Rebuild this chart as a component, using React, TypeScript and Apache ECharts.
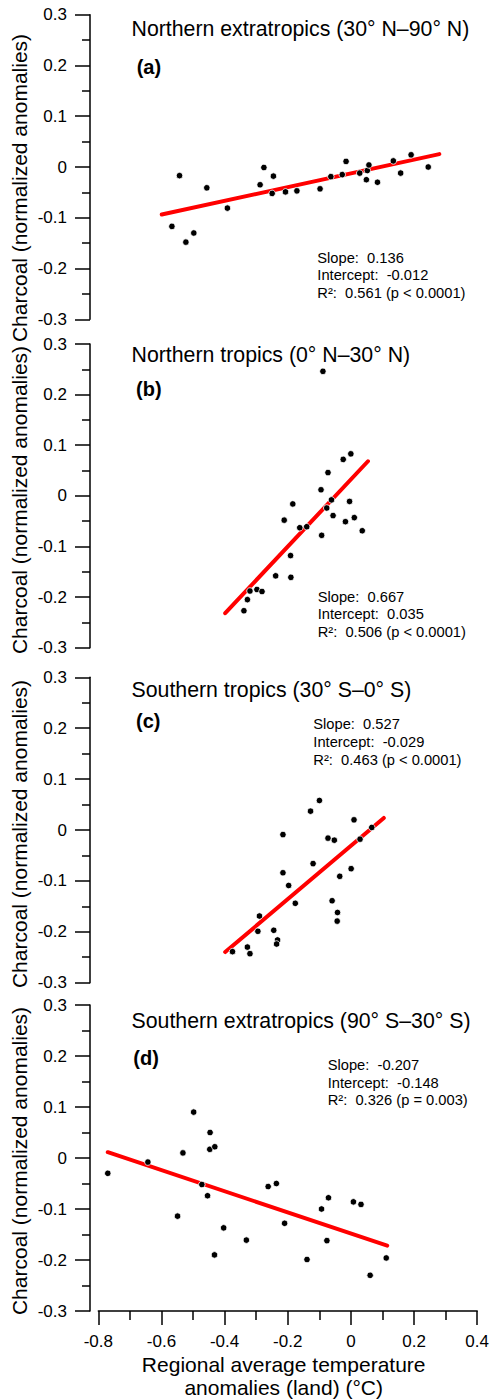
import React, { useEffect, useRef } from "react";
import * as echarts from "echarts";

// ---------- data ----------
const xTicks = [-0.8, -0.6, -0.4, -0.2, 0, 0.2, 0.4];
const yTicks = [-0.3, -0.2, -0.1, 0, 0.1, 0.2, 0.3];

const panelTitles = [
  "Northern extratropics (30° N–90° N)",
  "Northern tropics (0° N–30° N)",
  "Southern tropics (30° S–0° S)",
  "Southern extratropics (90° S–30° S)",
];
const panelLabels = ["(a)", "(b)", "(c)", "(d)"];
const slopes = [0.136, 0.667, 0.527, -0.207];
const intercepts = [-0.012, 0.035, -0.029, -0.148];
const r2Values = [0.561, 0.506, 0.463, 0.326];
const pTexts = ["p < 0.0001", "p < 0.0001", "p < 0.0001", "p = 0.003"];
const fitStartX = [-0.6, -0.4, -0.4, -0.77];
const fitEndX = [0.275, 0.05, 0.1, 0.115];

const aX = [-0.568, -0.544, -0.524, -0.499, -0.458, -0.393, -0.29, -0.278, -0.248, -0.252, -0.21, -0.174, -0.101, -0.067, -0.031, -0.019, 0.024, 0.045, 0.048, 0.053, 0.08, 0.13, 0.153, 0.186, 0.24];
const aY = [-0.117, -0.017, -0.148, -0.13, -0.041, -0.081, -0.035, -0.001, -0.018, -0.052, -0.049, -0.047, -0.043, -0.019, -0.015, 0.011, -0.012, -0.025, -0.007, 0.004, -0.03, 0.012, -0.012, 0.024, 0.0];

const bX = [-0.341, -0.33, -0.322, -0.3, -0.284, -0.241, -0.193, -0.194, -0.214, -0.187, -0.165, -0.143, -0.096, -0.098, -0.076, -0.08, -0.065, -0.06, -0.028, -0.004, -0.008, -0.021, 0.007, 0.032, -0.092];
const bY = [-0.227, -0.205, -0.188, -0.185, -0.189, -0.158, -0.161, -0.118, -0.048, -0.016, -0.063, -0.061, -0.078, 0.012, 0.046, -0.024, -0.008, -0.039, 0.072, 0.083, -0.011, -0.051, -0.043, -0.069, 0.246];

const cX = [-0.377, -0.33, -0.322, -0.297, -0.292, -0.247, -0.235, -0.238, -0.218, -0.218, -0.2, -0.179, -0.131, -0.103, -0.123, -0.076, -0.056, -0.063, -0.046, -0.047, -0.039, -0.003, 0.006, 0.025, 0.062];
const cY = [-0.239, -0.23, -0.243, -0.199, -0.169, -0.197, -0.216, -0.224, -0.009, -0.084, -0.109, -0.144, 0.037, 0.058, -0.066, -0.016, -0.02, -0.139, -0.162, -0.179, -0.091, -0.076, 0.02, -0.018, 0.005];

const dX = [-0.77, -0.643, -0.532, -0.498, -0.446, -0.447, -0.431, -0.472, -0.454, -0.549, -0.403, -0.432, -0.331, -0.262, -0.236, -0.21, -0.139, -0.093, -0.071, -0.076, 0.008, 0.032, 0.112, 0.061];
const dY = [-0.03, -0.008, 0.01, 0.09, 0.05, 0.017, 0.022, -0.052, -0.074, -0.114, -0.137, -0.19, -0.161, -0.056, -0.05, -0.128, -0.199, -0.1, -0.078, -0.162, -0.086, -0.091, -0.196, -0.23];

const xsAll = [aX, bX, cX, dX];
const ysAll = [aY, bY, cY, dY];

const yAxisName = "Charcoal (normalized anomalies)";
const xAxisNameLines = ["Regional average temperature", "anomalies (land) (°C)"];

// ---------- layout ----------
const FONT = "'Liberation Sans', Arial, Helvetica, sans-serif";
const GRID_LEFT = 98.3;
const GRID_WIDTH = 380.7;
const panelTop = [14.7, 344, 677.3, 1005];
const panelHeight = [304.6, 303.7, 305.4, 306];
const titleY = [29, 355.3, 690, 1021];
const labelY = [66.7, 389, 721, 1058.3];
const labelX = [136.7, 136, 136, 133.3];
const annotX = [317.3, 317.7, 313.3, 327.7];
const annotY = [257.7, 596.7, 724.3, 1065];
const yNameY = [188, 500, 834, 1161];

const black = "#000";
const axisLineStyle = { color: black, width: 1.5 };

export default function App() {
  const ref = useRef<HTMLDivElement>(null);

  useEffect(() => {
    if (!ref.current) return;
    const chart = echarts.init(ref.current, undefined, { renderer: "svg" });

    const grids = panelTop.map((t, i) => ({
      left: GRID_LEFT,
      top: t,
      width: GRID_WIDTH,
      height: panelHeight[i],
      containLabel: false,
    }));

    const fmt = (v: number) => String(Math.round(v * 10) / 10);

    const xAxes = panelTop.map((_, i) => ({
      gridIndex: i,
      type: "value",
      min: xTicks[0],
      max: xTicks[xTicks.length - 1],
      interval: 0.2,
      show: i === 3,
      axisLine: { show: true, onZero: false, lineStyle: axisLineStyle },
      axisTick: { show: true, length: 14, lineStyle: axisLineStyle },
      minorTick: { show: true, splitNumber: 2, length: 9, lineStyle: axisLineStyle },
      splitLine: { show: false },
      minorSplitLine: { show: false },
      axisLabel: { margin: 22, fontSize: 17, color: black, fontFamily: FONT, formatter: fmt },
    }));

    const yAxes = panelTop.map((_, i) => ({
      gridIndex: i,
      type: "value",
      min: yTicks[0],
      max: yTicks[yTicks.length - 1],
      interval: 0.1,
      offset: 8.3,
      axisLine: { show: true, onZero: false, lineStyle: axisLineStyle },
      axisTick: { show: true, length: 15, lineStyle: axisLineStyle },
      minorTick: { show: true, splitNumber: 2, length: 8, lineStyle: axisLineStyle },
      splitLine: { show: false },
      minorSplitLine: { show: false },
      axisLabel: { margin: 23, fontSize: 17, color: black, fontFamily: FONT, formatter: fmt },
    }));

    const series: any[] = [];
    xsAll.forEach((xs, i) => {
      const s = slopes[i];
      const b = intercepts[i];
      series.push({
        type: "line",
        xAxisIndex: i,
        yAxisIndex: i,
        data: [
          [fitStartX[i], s * fitStartX[i] + b],
          [fitEndX[i], s * fitEndX[i] + b],
        ],
        symbol: "none",
        silent: true,
        z: 2,
        lineStyle: { color: "#ff0000", width: 4, cap: "round" },
      });
      series.push({
        type: "scatter",
        xAxisIndex: i,
        yAxisIndex: i,
        data: xs.map((x, k) => [x, ysAll[i][k]]),
        symbol: "circle",
        symbolSize: 6.5,
        z: 3,
        itemStyle: { color: black, borderColor: "#fff", borderWidth: 0.8, opacity: 1 },
      });
    });

    const graphics: any[] = [];
    panelTop.forEach((_, i) => {
      graphics.push({
        type: "text",
        x: 131.5,
        y: titleY[i],
        style: {
          text: panelTitles[i],
          font: `21.3px ${FONT}`,
          fill: black,
          textAlign: "left",
          textVerticalAlign: "middle",
        },
      });
      graphics.push({
        type: "text",
        x: labelX[i],
        y: labelY[i],
        style: {
          text: panelLabels[i],
          font: `bold 20px ${FONT}`,
          fill: black,
          textAlign: "left",
          textVerticalAlign: "middle",
        },
      });
      const lines = [
        `Slope:  ${slopes[i].toFixed(3)}`,
        `Intercept:  ${intercepts[i].toFixed(3)}`,
        `R²:  ${r2Values[i].toFixed(3)} (${pTexts[i]})`,
      ];
      lines.forEach((t, k) => {
        graphics.push({
          type: "text",
          x: annotX[i],
          y: annotY[i] + k * 17.6,
          style: {
            text: t,
            font: `14.7px ${FONT}`,
            fill: black,
            textAlign: "left",
            textVerticalAlign: "middle",
          },
        });
      });
      graphics.push({
        type: "text",
        x: 19.5,
        y: yNameY[i],
        rotation: Math.PI / 2,
        style: {
          text: yAxisName,
          font: `21px ${FONT}`,
          fill: black,
          textAlign: "center",
          textVerticalAlign: "middle",
        },
      });
    });
    xAxisNameLines.forEach((t, k) => {
      graphics.push({
        type: "text",
        x: 283.7,
        y: 1364.5 + k * 22.5,
        style: {
          text: t,
          font: `21px ${FONT}`,
          fill: black,
          textAlign: "center",
          textVerticalAlign: "middle",
        },
      });
    });

    chart.setOption({
      animation: false,
      backgroundColor: "#fff",
      grid: grids,
      xAxis: xAxes,
      yAxis: yAxes,
      series,
      graphic: graphics,
    });

    return () => chart.dispose();
  }, []);

  return (
    <div
      ref={ref}
      style={{ position: "fixed", left: 0, top: 0, width: 492, height: 1400, background: "#fff" }}
    />
  );
}
